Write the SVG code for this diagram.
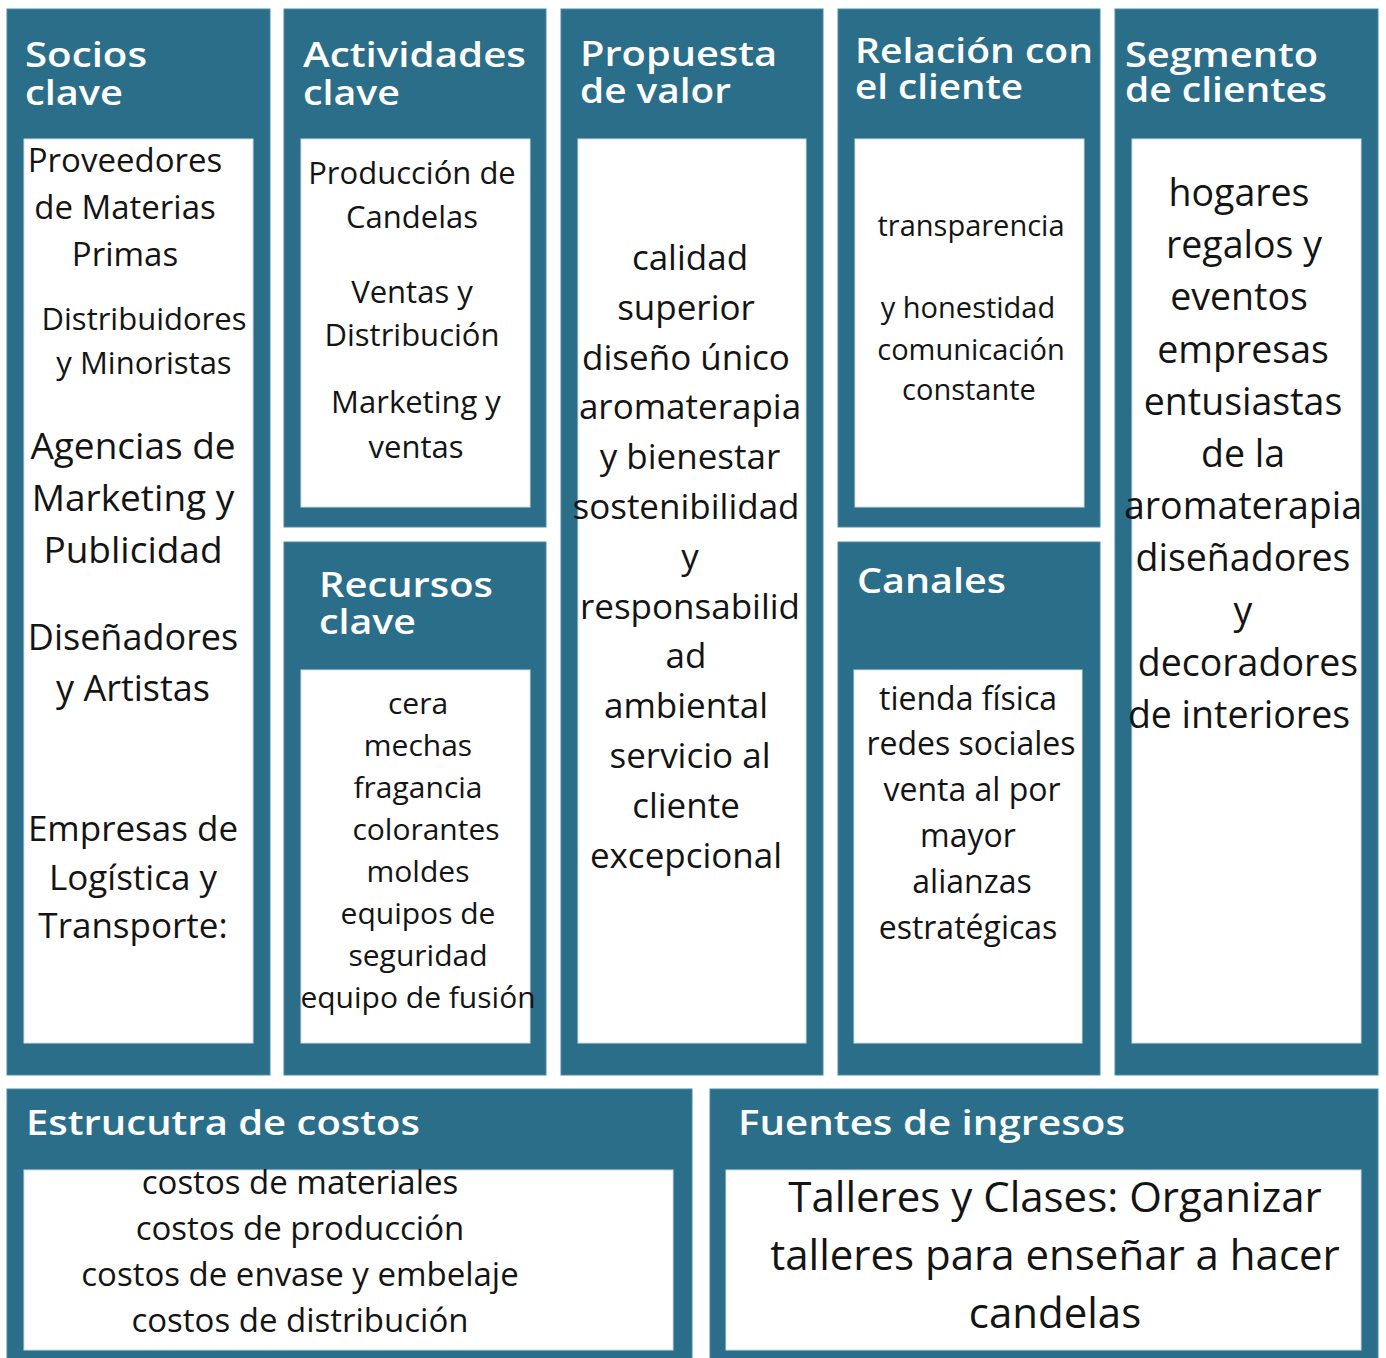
<svg xmlns="http://www.w3.org/2000/svg" width="1386" height="1358" viewBox="0 0 1386 1358">
<style>
.panel{fill:#2a6e8a;stroke:#4d8aa3;stroke-width:1}
.box{fill:#ffffff;stroke:#cfdde4;stroke-width:1}
.title{font-family:"Open Sans","Liberation Sans",sans-serif;font-weight:600;font-size:34px;fill:#ffffff}
.txt{font-family:"Open Sans","Liberation Sans",sans-serif;font-weight:400;fill:#141414;text-anchor:middle}
</style>
<rect width="1386" height="1358" fill="#ffffff"/>

<g id="socios-clave">
<rect class="panel" x="7" y="9" width="263" height="1066"/>
<text class="title" x="25" y="67" textLength="122" lengthAdjust="spacingAndGlyphs">Socios</text>
<text class="title" x="25" y="105" textLength="98" lengthAdjust="spacingAndGlyphs">clave</text>
<rect class="box" x="24" y="139" width="229" height="904"/>
<g class="txt" font-size="33">
<text x="125" y="172">Proveedores</text>
<text x="125" y="219">de Materias</text>
<text x="125" y="266">Primas</text>
</g>
<g class="txt" font-size="31">
<text x="144" y="330">Distribuidores</text>
<text x="144" y="374">y Minoristas</text>
</g>
<g class="txt" font-size="37">
<text x="133" y="459">Agencias de</text>
<text x="133" y="511">Marketing y</text>
<text x="133" y="563">Publicidad</text>
</g>
<g class="txt" font-size="36">
<text x="133" y="650">Diseñadores</text>
<text x="133" y="701">y Artistas</text>
</g>
<g class="txt" font-size="35">
<text x="133" y="841">Empresas de</text>
<text x="133" y="890">Logística y</text>
<text x="133" y="938">Transporte:</text>
</g>
</g>

<g id="actividades-clave">
<rect class="panel" x="284" y="9" width="262" height="518"/>
<text class="title" x="303" y="67" textLength="223" lengthAdjust="spacingAndGlyphs">Actividades</text>
<text class="title" x="303" y="105" textLength="97" lengthAdjust="spacingAndGlyphs">clave</text>
<rect class="box" x="301" y="139" width="229" height="368"/>
<g class="txt" font-size="31">
<text x="412" y="184">Producción de</text>
<text x="412" y="228">Candelas</text>
<text x="412" y="303">Ventas y</text>
<text x="412" y="346">Distribución</text>
<text x="416" y="413">Marketing y</text>
<text x="416" y="458">ventas</text>
</g>
</g>

<g id="recursos-clave">
<rect class="panel" x="284" y="542" width="262" height="533"/>
<text class="title" x="319" y="597" textLength="174" lengthAdjust="spacingAndGlyphs">Recursos</text>
<text class="title" x="319" y="634" textLength="97" lengthAdjust="spacingAndGlyphs">clave</text>
<rect class="box" x="301" y="670" width="229" height="373"/>
<g class="txt" font-size="30">
<text x="418" y="714">cera</text>
<text x="418" y="756">mechas</text>
<text x="418" y="798">fragancia</text>
<text x="426" y="840">colorantes</text>
<text x="418" y="882">moldes</text>
<text x="418" y="924">equipos de</text>
<text x="418" y="966">seguridad</text>
<text x="418" y="1008">equipo de fusión</text>
</g>
</g>

<g id="propuesta-valor">
<rect class="panel" x="561" y="9" width="262" height="1066"/>
<text class="title" x="580" y="66" textLength="197" lengthAdjust="spacingAndGlyphs">Propuesta</text>
<text class="title" x="580" y="103" textLength="151" lengthAdjust="spacingAndGlyphs">de valor</text>
<rect class="box" x="578" y="139" width="228" height="904"/>
<g class="txt" font-size="35">
<text x="690" y="270">calidad</text>
<text x="686" y="320">superior</text>
<text x="686" y="370">diseño único</text>
<text x="690" y="419">aromaterapia</text>
<text x="690" y="469">y bienestar</text>
<text x="686" y="519">sostenibilidad</text>
<text x="690" y="569">y</text>
<text x="690" y="619">responsabilid</text>
<text x="686" y="668">ad</text>
<text x="686" y="718">ambiental</text>
<text x="690" y="768">servicio al</text>
<text x="686" y="818">cliente</text>
<text x="686" y="868">excepcional</text>
</g>
</g>

<g id="relacion-cliente">
<rect class="panel" x="838" y="9" width="262" height="518"/>
<text class="title" x="855" y="63" textLength="238" lengthAdjust="spacingAndGlyphs">Relación con</text>
<text class="title" x="855" y="99" textLength="168" lengthAdjust="spacingAndGlyphs">el cliente</text>
<rect class="box" x="855" y="139" width="229" height="368"/>
<g class="txt" font-size="29">
<text x="971" y="236">transparencia</text>
<text x="968" y="318">y honestidad</text>
<text x="971" y="360">comunicación</text>
<text x="969" y="400">constante</text>
</g>
</g>

<g id="canales">
<rect class="panel" x="838" y="542" width="262" height="533"/>
<text class="title" x="857" y="593" textLength="149" lengthAdjust="spacingAndGlyphs">Canales</text>
<rect class="box" x="854" y="670" width="228" height="373"/>
<g class="txt" font-size="32">
<text x="968" y="710">tienda física</text>
<text x="971" y="755">redes sociales</text>
<text x="972" y="801">venta al por</text>
<text x="968" y="847">mayor</text>
<text x="972" y="893">alianzas</text>
<text x="968" y="939">estratégicas</text>
</g>
</g>

<g id="segmento-clientes">
<rect class="panel" x="1115" y="9" width="263" height="1066"/>
<text class="title" x="1125" y="67" textLength="193" lengthAdjust="spacingAndGlyphs">Segmento</text>
<text class="title" x="1125" y="102" textLength="202" lengthAdjust="spacingAndGlyphs">de clientes</text>
<rect class="box" x="1132" y="139" width="229" height="904"/>
<g class="txt" font-size="37.5">
<text x="1239" y="206">hogares</text>
<text x="1244" y="258">regalos y</text>
<text x="1239" y="310">eventos</text>
<text x="1243" y="363">empresas</text>
<text x="1243" y="415">entusiastas</text>
<text x="1243" y="467">de la</text>
<text x="1243" y="519">aromaterapia</text>
<text x="1243" y="571">diseñadores</text>
<text x="1243" y="624">y</text>
<text x="1248" y="676">decoradores</text>
<text x="1239" y="728">de interiores</text>
</g>
</g>

<g id="estructura-costos">
<rect class="panel" x="7" y="1089" width="685" height="275"/>
<text class="title" x="26" y="1135" textLength="394" lengthAdjust="spacingAndGlyphs">Estrucutra de costos</text>
<rect class="box" x="24" y="1170" width="649" height="180"/>
<g class="txt" font-size="33">
<text x="300" y="1194">costos de materiales</text>
<text x="300" y="1240">costos de producción</text>
<text x="300" y="1286">costos de envase y embelaje</text>
<text x="300" y="1332">costos de distribución</text>
</g>
</g>

<g id="fuentes-ingresos">
<rect class="panel" x="710" y="1089" width="668" height="275"/>
<text class="title" x="738" y="1135" textLength="387" lengthAdjust="spacingAndGlyphs">Fuentes de ingresos</text>
<rect class="box" x="726" y="1170" width="635" height="180"/>
<g class="txt" font-size="42">
<text x="1055" y="1212">Talleres y Clases: Organizar</text>
<text x="1055" y="1270">talleres para enseñar a hacer</text>
<text x="1055" y="1328">candelas</text>
</g>
</g>

<g id="connectors"></g>
</svg>
